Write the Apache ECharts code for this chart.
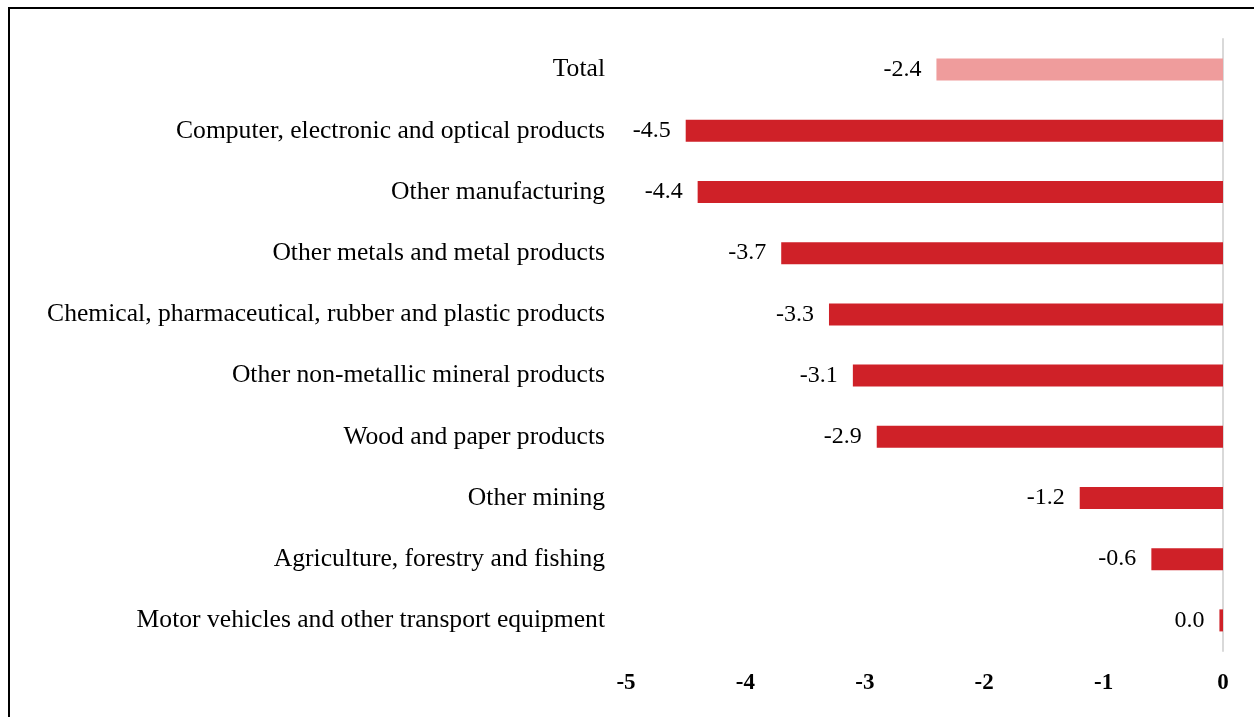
<!DOCTYPE html>
<html>
<head>
<meta charset="utf-8">
<script src="https://cdn.jsdelivr.net/npm/echarts@6/dist/echarts.min.js"></script>
<style>
html,body{margin:0;padding:0;background:#fff;}
#chart{width:1254px;height:717px;}
</style>
</head>
<body>
<div id="chart"></div>
<script>
const categories = [
  "Total",
  "Computer, electronic and optical products",
  "Other manufacturing",
  "Other metals and metal products",
  "Chemical, pharmaceutical, rubber and plastic products",
  "Other non-metallic mineral products",
  "Wood and paper products",
  "Other mining",
  "Agriculture, forestry and fishing",
  "Motor vehicles and other transport equipment"
];
const values = [-2.4, -4.5, -4.4, -3.7, -3.3, -3.1, -2.9, -1.2, -0.6, -0.03];
const xTicks = [-5, -4, -3, -2, -1, 0];

const FONT = "'Liberation Serif', serif";
const chart = echarts.init(document.getElementById('chart'));
chart.setOption({
  animation: false,
  grid: {left: 626, right: 31, top: 39, bottom: 66},
  xAxis: {
    type: 'value', min: xTicks[0], max: xTicks[xTicks.length-1], interval: 1,
    axisLine: {show: false}, axisTick: {show: false}, splitLine: {show: false},
    axisLabel: {margin: 21, color: '#000', fontFamily: FONT, fontWeight: 'bold', fontSize: 23}
  },
  yAxis: [
    {
      type: 'category', data: categories, inverse: true, position: 'left',
      axisLine: {show: false}, axisTick: {show: false},
      axisLabel: {margin: 21, color: '#000', fontFamily: FONT, fontSize: 25.6}
    },
    {
      type: 'category', data: categories, inverse: true, position: 'right',
      axisLine: {show: true, lineStyle: {color: '#d9d9d9', width: 2}},
      axisTick: {show: false}, axisLabel: {show: false}
    }
  ],
  series: [{
    type: 'bar', yAxisIndex: 0,
    data: values.map((v, i) => ({value: v, itemStyle: {color: i === 0 ? '#EF9C9C' : '#CF2128'}})),
    barWidth: '36%',
    label: {
      show: true, position: 'left', distance: 15, color: '#000', fontFamily: FONT, fontSize: 24,
      formatter: p => (Math.round(p.value * 10) / 10).toFixed(1)
    }
  }],
  graphic: [
    {type: 'line', shape: {x1: 9, y1: 8, x2: 1260, y2: 8}, style: {stroke: '#000', lineWidth: 2}},
    {type: 'line', shape: {x1: 9, y1: 7, x2: 9, y2: 720}, style: {stroke: '#000', lineWidth: 2}}
  ]
});
</script>
</body>
</html>
